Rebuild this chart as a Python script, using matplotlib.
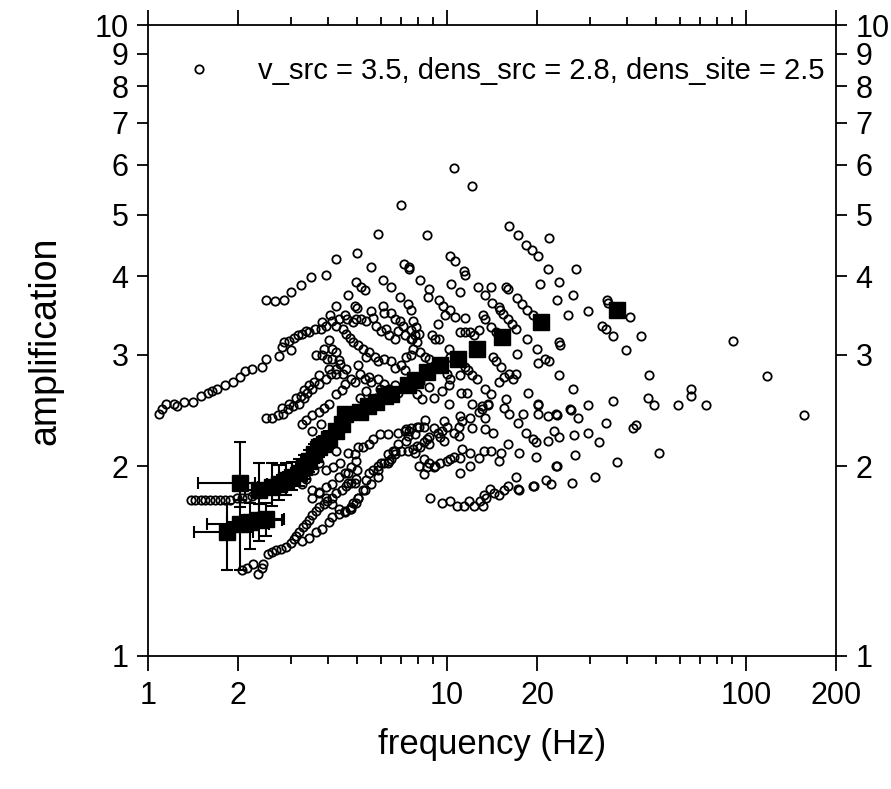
import numpy as np
import matplotlib
matplotlib.use('Agg')
import matplotlib.pyplot as plt
from matplotlib.ticker import FixedLocator, FixedFormatter, NullFormatter

plt.rcParams['font.family'] = ['Liberation Sans', 'DejaVu Sans']

# ========== circles (frequency Hz, amplification) ==========

long_curve = [(1.09, 2.42), (1.11, 2.46), (1.15, 2.51), (1.22, 2.51), (1.25, 2.49), (1.32, 2.53),
              (1.41, 2.53), (1.50, 2.58), (1.59, 2.61), (1.64, 2.63), (1.70, 2.65), (1.81, 2.69),
              (1.92, 2.72), (2.03, 2.77), (2.11, 2.83), (2.22, 2.85), (2.40, 2.87), (2.49, 2.96),
              (2.75, 2.99), (2.81, 3.09), (2.86, 3.15), (2.97, 3.16), (3.01, 3.06), (3.08, 3.19),
              (3.18, 3.23), (3.27, 3.24), (3.37, 3.27), (3.45, 3.26), (3.61, 3.30), (3.79, 3.30),
              (3.81, 3.38), (3.93, 3.34)]

top_curve = [(2.49, 3.66), (2.65, 3.65), (2.86, 3.67), (3.01, 3.78), (3.25, 3.87), (3.50, 3.98),
             (3.93, 4.02), (4.24, 4.25), (5.0, 4.35), (5.88, 4.67), (7.0, 5.18), (8.6, 4.65),
             (10.55, 5.94), (12.09, 5.55), (16.14, 4.80), (17.28, 4.65), (21.87, 4.60), (18.37, 4.48),
             (19.22, 4.40), (20.12, 4.31), (21.71, 4.11), (27.06, 4.11), (23.78, 3.92), (26.45, 3.73),
             (20.43, 3.88), (23.25, 3.66), (25.46, 3.47), (29.66, 3.52), (34.25, 3.67), (34.6, 3.63),
             (40.81, 3.44), (32.98, 3.34), (33.99, 3.30), (35.85, 3.21), (44.70, 3.21), (39.58, 3.06)]

mid_cluster = [(5.57, 4.14), (7.16, 4.18), (7.44, 4.11), (6.10, 3.95), (6.49, 3.85), (4.97, 3.91),
               (5.16, 3.84), (5.30, 3.80), (4.68, 3.73), (6.94, 3.71), (7.38, 3.61), (7.55, 3.54),
               (4.27, 3.59), (4.93, 3.59), (5.0, 3.56), (5.57, 3.52), (6.10, 3.59), (6.17, 3.49),
               (6.49, 3.50), (6.69, 3.42), (6.94, 3.40), (7.10, 3.34), (7.72, 3.40), (7.55, 3.29),
               (4.06, 3.47), (4.34, 3.42), (4.57, 3.47), (4.64, 3.42), (4.86, 3.38), (4.97, 3.42),
               (5.16, 3.42), (5.36, 3.39), (5.66, 3.43), (5.79, 3.34), (6.01, 3.27), (6.24, 3.30),
               (6.42, 3.23), (6.69, 3.18), (6.84, 3.27), (7.21, 3.23), (7.55, 3.18), (7.84, 3.23),
               (4.14, 3.39), (4.24, 3.34), (4.50, 3.30), (4.61, 3.24), (4.74, 3.19), (4.86, 3.15),
               (5.05, 3.11), (5.24, 3.07), (5.36, 2.98), (5.50, 3.03), (5.73, 2.98), (5.88, 2.93),
               (6.17, 2.96), (6.49, 2.93), (6.69, 2.86), (7.0, 2.89), (7.27, 2.98), (7.55, 3.00),
               (7.21, 2.84), (4.02, 3.17), (4.11, 3.07), (4.27, 3.03), (3.87, 3.07), (3.64, 3.00),
               (3.81, 3.00), (3.96, 2.96), (4.11, 2.96), (4.34, 2.95), (4.40, 2.90), (4.02, 2.85),
               (4.24, 2.80), (4.50, 2.80), (4.61, 2.85), (5.05, 2.89), (5.12, 2.80), (4.79, 2.75),
               (4.57, 2.70), (4.44, 2.64), (4.24, 2.60), (4.93, 2.72), (5.30, 2.75), (5.50, 2.77),
               (5.57, 2.72), (5.88, 2.75), (5.96, 2.65), (6.17, 2.70), (6.42, 2.65), (6.69, 2.69),
               (6.84, 2.61), (3.72, 2.79), (3.59, 2.72), (3.45, 2.69), (3.32, 2.64), (3.25, 2.58),
               (3.13, 2.56), (2.97, 2.51), (2.81, 2.47), (5.36, 2.63), (5.12, 2.56), (5.79, 2.56),
               (6.34, 2.56)]

upper_right = [(10.23, 4.31), (10.63, 4.23), (7.49, 4.13), (8.15, 3.94), (8.72, 3.81), (8.66, 3.71),
               (10.31, 3.89), (11.38, 4.07), (11.47, 4.01), (11.04, 3.77), (12.66, 3.85), (14.08, 3.85),
               (13.45, 3.74), (14.19, 3.63), (15.08, 3.54), (15.78, 3.85), (16.02, 3.81), (17.15, 3.69),
               (17.82, 3.61), (18.51, 3.54), (19.37, 3.47), (9.41, 3.67), (9.70, 3.59), (9.85, 3.47),
               (10.23, 3.53), (10.63, 3.44), (11.47, 3.43), (9.34, 3.36), (13.15, 3.47), (13.45, 3.42),
               (14.96, 3.57), (15.42, 3.48), (16.02, 3.42), (16.51, 3.36), (17.02, 3.30), (14.08, 3.32),
               (14.62, 3.26), (11.04, 3.26), (11.47, 3.26), (11.91, 3.26), (12.28, 3.23), (12.75, 3.29),
               (8.92, 3.23), (9.13, 3.18), (9.41, 3.18), (7.90, 3.32), (8.08, 3.24), (7.61, 3.18),
               (7.96, 3.15), (7.67, 3.07), (8.15, 3.03), (8.46, 2.98), (8.72, 2.96), (10.15, 3.07),
               (10.23, 2.98), (11.47, 2.87), (11.73, 2.84), (12.09, 2.79), (12.56, 2.75), (10.0, 2.80),
               (10.23, 2.75), (10.15, 2.69), (11.04, 2.79), (13.45, 2.65), (14.08, 2.60), (14.30, 2.98),
               (14.62, 2.93), (15.19, 2.87), (15.54, 2.77), (16.14, 2.80), (14.96, 2.72), (16.64, 2.75),
               (17.02, 2.80), (17.15, 3.01), (18.51, 3.18), (19.96, 3.07), (20.12, 2.91), (21.21, 2.96),
               (21.87, 2.93), (23.78, 3.15), (23.78, 2.79), (26.45, 2.65), (18.65, 2.61), (20.12, 2.51),
               (15.78, 2.55), (13.76, 2.51), (13.05, 2.49), (12.09, 2.51), (11.12, 2.61), (11.64, 2.61),
               (10.15, 2.51), (9.63, 2.63), (8.72, 2.67), (8.15, 2.72), (7.78, 2.75), (9.06, 2.56),
               (8.27, 2.55), (7.96, 2.60), (25.85, 2.46), (15.54, 2.47)]

far_right = [(23.96, 3.11), (47.50, 2.79), (65.35, 2.65), (65.35, 2.58), (59.20, 2.50), (49.33, 2.50),
             (47.14, 2.56), (35.85, 2.54), (29.66, 2.50), (26.05, 2.45), (27.47, 2.38), (23.4, 2.41),
             (23.6, 2.22), (26.65, 2.24), (29.66, 2.26), (33.99, 2.34), (32.3, 2.18), (42.71, 2.32),
             (42.0, 2.30), (51.24, 2.10), (36.96, 2.03), (26.85, 2.08), (23.4, 2.00), (31.26, 1.92),
             (26.25, 1.88), (73.2, 2.50), (90.6, 3.16), (117.3, 2.78), (156.6, 2.41)]

lower_chains = [(2.07, 1.37), (2.15, 1.38), (2.24, 1.40), (2.33, 1.35), (2.40, 1.38), (2.42, 1.40),
                (2.51, 1.45), (2.60, 1.46), (2.69, 1.47), (2.79, 1.48), (2.90, 1.49), (3.01, 1.51),
                (3.08, 1.53), (3.13, 1.55), (3.20, 1.57), (3.30, 1.60), (3.37, 1.62), (3.45, 1.64),
                (3.53, 1.67), (3.64, 1.70), (3.72, 1.72), (3.87, 1.74), (3.96, 1.76), (4.11, 1.78),
                (4.27, 1.81), (4.44, 1.83), (4.61, 1.86), (4.79, 1.88), (4.97, 1.91),
                (3.27, 1.52), (3.45, 1.54), (3.64, 1.57), (3.81, 1.59), (4.02, 1.63), (4.11, 1.66),
                (4.34, 1.68), (4.57, 1.70), (4.79, 1.72), (4.97, 1.75),
                (3.53, 1.78), (3.72, 1.82), (3.93, 1.85), (4.11, 1.87), (4.34, 1.92), (4.57, 1.95),
                (4.79, 1.99), (4.97, 2.04),
                (2.49, 2.38), (2.60, 2.38), (2.73, 2.41), (2.83, 2.42), (2.95, 2.46), (3.05, 2.49),
                (3.27, 2.33), (3.37, 2.37), (3.53, 2.41), (3.72, 2.44), (3.87, 2.47), (4.02, 2.51),
                (3.53, 2.27), (3.79, 2.33), (3.93, 2.21), (4.08, 2.17), (4.27, 2.11), (4.40, 2.02),
                (4.17, 1.99), (3.93, 1.97), (3.72, 2.02), (3.59, 1.97), (3.37, 1.91), (3.27, 1.87),
                (3.53, 1.83), (3.72, 1.81), (3.93, 1.78), (4.11, 1.74), (4.34, 1.71), (4.57, 1.69),
                (4.79, 1.71), (5.05, 1.78), (5.30, 1.83), (5.57, 1.87), (5.88, 1.97), (6.17, 2.02),
                (6.42, 2.04), (6.69, 2.11), (7.21, 2.27),
                (3.20, 2.51), (3.32, 2.56), (3.40, 2.61), (3.53, 2.65), (3.72, 2.70), (3.93, 2.75),
                (4.08, 2.80), (4.24, 2.85)]

lower_mid = [(4.68, 2.10), (4.93, 2.09), (5.05, 2.14), (5.24, 2.14), (5.50, 2.17), (5.66, 2.21),
             (5.96, 2.25), (6.34, 2.25), (6.84, 2.26), (7.27, 2.29), (7.55, 2.30), (7.96, 2.31),
             (8.39, 2.31), (9.06, 2.30), (9.63, 2.27), (4.68, 2.42), (4.93, 2.44), (4.68, 1.95),
             (5.01, 1.97), (4.68, 1.88), (4.93, 1.88), (5.24, 1.83), (5.05, 1.78), (4.86, 1.75),
             (4.74, 1.71), (5.36, 1.90), (5.50, 1.95), (5.66, 1.97), (5.88, 1.92), (5.88, 2.00),
             (6.01, 2.02), (6.34, 2.02), (6.49, 2.05), (6.69, 2.09), (7.0, 2.11), (7.38, 2.11),
             (7.67, 2.13), (7.96, 2.15), (8.39, 2.18), (8.59, 2.21), (6.34, 2.09), (6.59, 2.11),
             (6.84, 2.17), (7.27, 2.19), (7.38, 2.23), (7.49, 2.27), (7.84, 2.25), (8.08, 2.31),
             (8.46, 2.37), (8.72, 2.22), (9.30, 2.26), (9.48, 2.22), (9.78, 2.19), (8.72, 2.17),
             (8.15, 2.14), (7.84, 2.10), (8.39, 2.05), (8.72, 2.02), (9.06, 1.99), (8.39, 1.94),
             (8.08, 2.00), (8.59, 1.99), (9.13, 2.00), (9.48, 2.02), (10.0, 2.04), (10.23, 2.05),
             (10.55, 2.07), (11.04, 2.06), (11.2, 2.13), (11.91, 2.10), (11.91, 2.00), (11.04, 1.95),
             (12.75, 2.06), (13.25, 2.11), (14.08, 2.11), (14.96, 2.04), (15.19, 2.10), (16.02, 2.17),
             (14.30, 2.26), (13.35, 2.29), (12.09, 2.30), (10.96, 2.31), (9.78, 2.36), (10.0, 2.31),
             (10.55, 2.26), (10.96, 2.23), (11.04, 2.40), (11.2, 2.36), (11.91, 2.38), (12.75, 2.44),
             (13.05, 2.46), (13.35, 2.38), (13.76, 2.50), (16.14, 2.42), (17.42, 2.10), (17.96, 2.42),
             (18.37, 2.26), (19.37, 2.21), (19.8, 2.18), (20.12, 2.42), (20.12, 2.50), (21.71, 2.40),
             (23.07, 2.42), (21.71, 2.19), (22.72, 2.27), (19.8, 2.07), (23.07, 2.00), (17.28, 2.34)]

flat_row = [(1.39, 1.77), (1.44, 1.77), (1.50, 1.77), (1.55, 1.77), (1.61, 1.77), (1.68, 1.77),
            (1.74, 1.77), (1.81, 1.77), (1.88, 1.77), (1.98, 1.78), (2.06, 1.78), (2.14, 1.78),
            (2.22, 1.79)]

bottom_curve = [(8.79, 1.78), (9.63, 1.75), (10.23, 1.76), (10.8, 1.73), (11.38, 1.73), (11.82, 1.76),
                (12.28, 1.73), (12.85, 1.76), (13.15, 1.73), (13.25, 1.80), (13.55, 1.78), (13.97, 1.84),
                (14.4, 1.81), (14.96, 1.80), (15.54, 1.83), (16.02, 1.86), (17.02, 1.92), (17.28, 1.84),
                (17.42, 1.83), (19.37, 1.86), (19.51, 1.86), (21.38, 1.90), (22.21, 1.87)]

# ========== averaged amplification (squares) ==========

sq_freq = [1.84, 2.03, 2.19, 2.36, 2.49, 2.03, 2.36, 2.59, 2.75, 2.90, 3.03, 3.20, 3.32, 3.45, 3.59,
           3.72, 3.87, 4.02, 4.24, 4.44, 4.57, 5.12, 5.45, 5.79, 6.20, 6.49, 7.38, 7.84, 8.59, 9.48,
           10.87, 12.56, 15.31, 20.6, 36.96]
sq_amp = [1.57, 1.62, 1.63, 1.64, 1.65, 1.88, 1.83, 1.85, 1.875, 1.90, 1.92, 1.95, 1.99, 2.04, 2.09,
          2.14, 2.17, 2.21, 2.27, 2.33, 2.42, 2.44, 2.49, 2.53, 2.58, 2.60, 2.69, 2.74, 2.82, 2.89,
          2.96, 3.07, 3.20, 3.38, 3.53]
sq_amp_lo = [0.20, 0.25, 0.15, 0.12, 0.10, 0.16, 0.15, 0.12, 0.11, 0.10, 0.09, 0.09, 0.08, 0.08, 0.07,
             0.07, 0.06, 0.06, 0.05, 0.05, 0.05, 0.05, 0.04, 0.04, 0.04, 0.04, 0.04, 0.04, 0.04, 0.04,
             0.04, 0.04, 0.04, 0.05, 0.09]
sq_amp_hi = [0.17, 0.15, 0.12, 0.10, 0.10, 0.30, 0.19, 0.17, 0.13, 0.12, 0.11, 0.10, 0.09, 0.08, 0.08,
             0.07, 0.06, 0.06, 0.05, 0.05, 0.05, 0.05, 0.04, 0.04, 0.04, 0.04, 0.04, 0.04, 0.04, 0.04,
             0.04, 0.04, 0.04, 0.05, 0.09]
sq_freq_lo = [0.42, 0.45, 0.35, 0.30, 0.30, 0.56, 0.25, 0.25, 0.25, 0.20, 0.20, 0.20, 0.20, 0.20, 0.20,
              0.20, 0.15, 0.15, 0.15, 0.15, 0.15, 0.10, 0.10, 0.10, 0.10, 0.10, 0.10, 0.10, 0.10, 0.10,
              0.10, 0.10, 0.10, 0.10, 0.10]
sq_freq_hi = [0.40, 0.50, 0.45, 0.45, 0.35, 0.25, 0.25, 0.30, 0.25, 0.25, 0.20, 0.20, 0.25, 0.20, 0.20,
              0.20, 0.15, 0.15, 0.15, 0.15, 0.15, 0.10, 0.10, 0.10, 0.10, 0.10, 0.10, 0.10, 0.10, 0.10,
              0.10, 0.10, 0.10, 0.10, 0.10]

legend_text = 'v_src = 3.5, dens_src = 2.8, dens_site = 2.5'

circles = long_curve + top_curve + mid_cluster + upper_right + far_right + lower_chains + lower_mid + flat_row + bottom_curve
circ_f = [p[0] for p in circles]
circ_a = [p[1] for p in circles]

fig = plt.figure(figsize=(8.91, 7.89), dpi=100)
ax = fig.add_axes([0.1661, 0.1686, 0.7722, 0.7997])

ax.plot(circ_f, circ_a, 'o', mfc='none', mec='black', ms=6.0, mew=1.3, ls='none', label=legend_text)

ax.errorbar(sq_freq, sq_amp, xerr=[sq_freq_lo, sq_freq_hi], yerr=[sq_amp_lo, sq_amp_hi],
            fmt='s', color='black', ms=11, elinewidth=1.5, capsize=4, capthick=1.5, zorder=3)

ax.set_xscale('log')
ax.set_yscale('log')
ax.set_xlim(1, 200)
ax.set_ylim(1, 10)

ax.xaxis.set_major_locator(FixedLocator([1, 2, 10, 20, 100, 200]))
ax.xaxis.set_major_formatter(FixedFormatter(['1', '2', '10', '20', '100', '200']))
ax.xaxis.set_minor_locator(FixedLocator([3, 4, 5, 6, 7, 8, 9, 30, 40, 50, 60, 70, 80, 90]))
ax.xaxis.set_minor_formatter(NullFormatter())

yt = [1, 2, 3, 4, 5, 6, 7, 8, 9, 10]
ax.yaxis.set_major_locator(FixedLocator(yt))
ax.yaxis.set_major_formatter(FixedFormatter([str(v) for v in yt]))
ax.yaxis.set_minor_locator(FixedLocator([]))

ax.tick_params(which='both', direction='out', top=True, right=True, labelright=True,
               width=1.3, labelsize=22, colors='black')
ax.tick_params(axis='x', which='major', length=11, pad=7)
ax.tick_params(axis='x', which='minor', length=6)
ax.tick_params(axis='y', which='major', length=8, pad=6)

for s in ax.spines.values():
    s.set_linewidth(1.3)

ax.set_xlabel('frequency (Hz)', fontsize=25, labelpad=12)
ax.set_ylabel('amplification', fontsize=27, labelpad=22)

ax.legend(loc='upper right', bbox_to_anchor=(1.008, 0.977), frameon=False, fontsize=21,
          numpoints=1, handlelength=2, handletextpad=1.0, borderaxespad=0.2)

fig.savefig('out.png', dpi=100)
